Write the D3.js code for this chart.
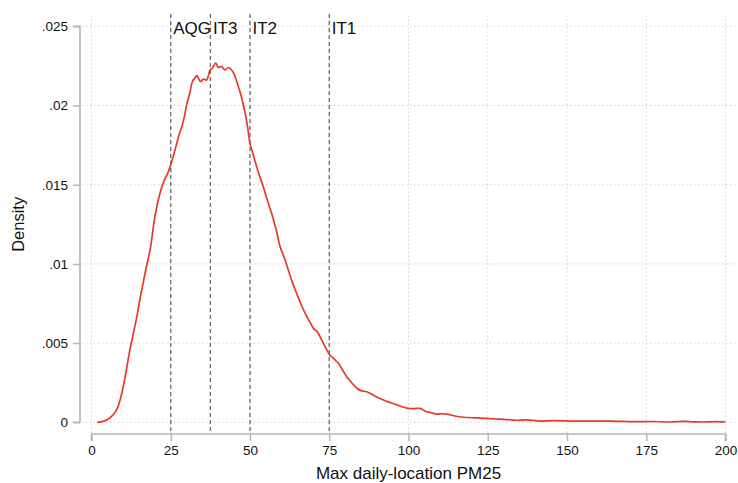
<!DOCTYPE html>
<html>
<head>
<meta charset="utf-8">
<script src="https://cdn.jsdelivr.net/npm/d3@7"></script>
<style>
  body { margin: 0; background: #fff; }
  svg { display: block; font-family: "Liberation Sans", Arial, Helvetica, sans-serif; }
</style>
</head>
<body>
<svg id="chart"></svg>
<script>
// kernel density
const pm = [1.8, 3.0, 4.8, 6.5, 7.9, 9.0, 10.0, 11.0, 12.1, 13.2, 14.3, 15.3, 16.3, 17.4, 18.5, 19.3, 20.0, 21.6, 23.0, 24.0,
  24.8, 25.8, 26.9, 27.7, 28.5, 29.3, 30.0, 31.1, 31.8, 32.5, 33.2, 33.8, 34.4, 35.3, 36.3, 36.9, 37.4, 38.1, 39.2, 40.0,
  40.6, 41.1, 42.1, 43.2, 44.7, 45.5, 46.3, 47.1, 47.9, 48.4, 49.2, 50.0, 51.0, 52.1, 53.1, 54.2, 55.5, 56.8, 58.2, 59.5,
  60.8, 62.1, 63.4, 64.7, 66.0, 67.4, 68.7, 70.0, 71.3, 72.6, 73.9, 75.2, 76.5, 77.9, 79.2, 80.5, 82.1, 83.7, 85.0, 86.8,
  87.9, 90.0, 92.1, 94.2, 96.3, 98.0, 99.9, 101.8, 103.6, 105.7, 107.3, 108.9, 110.5, 112.0, 114.6, 117.3, 121.0, 124.7, 127.3, 129.9,
  134.1, 137.3, 141.5, 146.0, 150.9, 156.0, 161.4, 166.0, 172.0, 177.0, 182.5, 186.7, 190.0, 193.0, 197.0, 200.0];
const density = [0, 0.00003, 0.00014, 0.0004, 0.00078, 0.0014, 0.00225, 0.0033, 0.00457, 0.0056, 0.00667, 0.0078, 0.0088, 0.0099, 0.0109, 0.0120, 0.01298, 0.01446, 0.0153, 0.0157,
  0.01614, 0.0168, 0.01761, 0.0182, 0.01866, 0.0193, 0.02003, 0.02087, 0.0215, 0.0217, 0.02188, 0.0217, 0.0215, 0.02167, 0.0216, 0.0219, 0.02224, 0.02235, 0.02267, 0.0224,
  0.02245, 0.02245, 0.02224, 0.0224, 0.0221, 0.0217, 0.0212, 0.0207, 0.02003, 0.0196, 0.0187, 0.01761, 0.0169, 0.01614, 0.0155, 0.01487, 0.0140, 0.0132, 0.0122, 0.01108,
  0.0104, 0.00961, 0.0088, 0.00815, 0.0075, 0.00688, 0.0064, 0.00593, 0.0057, 0.0052, 0.0047, 0.00425, 0.0040, 0.00373, 0.0033, 0.00288, 0.0025, 0.00215, 0.0020, 0.00193,
  0.00183, 0.0016, 0.00141, 0.00125, 0.0011, 0.00098, 0.00088, 0.00086, 0.00088, 0.00067, 0.0006, 0.00052, 0.00054, 0.00052, 0.0004, 0.00032, 0.00028, 0.00025, 0.00021, 0.00019,
  0.00013, 0.00015, 0.00008, 0.0001, 0.00008, 0.00007, 0.00008, 0.00006, 0.00004, 0.00005, 0.00002, 0.00006, 0.00003, 0.00002, 0.00004, 0.00002];

const guideValues = [25, 37.5, 50, 75];
const guideLabels = ['AQG', 'IT3', 'IT2', 'IT1'];
const xTicks = [0, 25, 50, 75, 100, 125, 150, 175, 200];
const yTicks = [0, 0.005, 0.01, 0.015, 0.02, 0.025];
const yTickLabels = ['0', '.005', '.01', '.015', '.02', '.025'];
const xTitle = 'Max daily-location PM25';
const yTitle = 'Density';

const width = 738;
const height = 483;

const svg = d3.select('#chart')
  .attr('width', width)
  .attr('height', height);

const x = d3.scaleLinear().domain([0, 200]).range([91.5, 725.5]);
const y = d3.scaleLinear().domain([0, 0.025]).range([422.3, 26.3]);

const gridTop = 15.7;
const xAxisY = 434;
const yAxisX = 80;

// dotted grid
svg.append('g')
  .selectAll('line')
  .data(yTicks)
  .join('line')
  .attr('x1', yAxisX + 2).attr('x2', width)
  .attr('y1', d => y(d)).attr('y2', d => y(d))
  .attr('stroke', '#c8c8c8')
  .attr('stroke-width', 1)
  .attr('stroke-dasharray', '1.2 2.8');

svg.append('g')
  .selectAll('line')
  .data(xTicks)
  .join('line')
  .attr('x1', d => x(d)).attr('x2', d => x(d))
  .attr('y1', gridTop).attr('y2', xAxisY)
  .attr('stroke', '#c8c8c8')
  .attr('stroke-width', 1)
  .attr('stroke-dasharray', '1.2 2.8');

// axes, stata style: detached from the plot region
const yAxis = svg.append('g')
  .attr('transform', `translate(${yAxisX},0)`)
  .call(d3.axisLeft(y).tickValues(yTicks).tickFormat((d, i) => yTickLabels[i]).tickSize(7).tickPadding(5));

const xAxis = svg.append('g')
  .attr('transform', `translate(0,${xAxisY})`)
  .call(d3.axisBottom(x).tickValues(xTicks).tickSize(7).tickPadding(4));

[yAxis, xAxis].forEach(g => {
  g.select('.domain').attr('stroke', '#b4b4b4').attr('stroke-width', 1.6);
  g.selectAll('.tick line').attr('stroke', '#b4b4b4').attr('stroke-width', 1.4);
  g.selectAll('.tick text')
    .attr('fill', '#111')
    .style('font-size', '13.5px')
    .style('font-family', '"Liberation Sans", Arial, sans-serif');
});
yAxis.select('.domain').attr('d', `M-7,${y(0)}H0V${y(0.025)}H-7`);
xAxis.select('.domain').attr('d', `M${x(0)},7V0H${x(200)}V7`);

// guide lines
svg.append('g')
  .selectAll('line')
  .data(guideValues)
  .join('line')
  .attr('x1', d => x(d)).attr('x2', d => x(d))
  .attr('y1', 14).attr('y2', xAxisY)
  .attr('stroke', '#6a6a6a')
  .attr('stroke-width', 1.3)
  .attr('stroke-dasharray', '4 3');

svg.append('g')
  .selectAll('text')
  .data(guideValues)
  .join('text')
  .attr('x', d => x(d) + 2.5)
  .attr('y', 33.5)
  .attr('font-size', 17)
  .attr('fill', '#111')
  .text((d, i) => guideLabels[i]);

// density curve
const pts = pm.map((v, i) => [v, density[i]]);
svg.append('path')
  .datum(pts)
  .attr('fill', 'none')
  .attr('stroke', '#e8392b')
  .attr('stroke-width', 1.7)
  .attr('stroke-linejoin', 'round')
  .attr('d', d3.line().x(d => x(d[0])).y(d => y(d[1])).curve(d3.curveCatmullRom.alpha(0.5)));

// titles
svg.append('text')
  .attr('x', (x(0) + x(200)) / 2)
  .attr('y', 479)
  .attr('text-anchor', 'middle')
  .attr('font-size', 17)
  .attr('fill', '#111')
  .text(xTitle);

svg.append('text')
  .attr('transform', `translate(24,${y(0.0125)}) rotate(-90)`)
  .attr('text-anchor', 'middle')
  .attr('font-size', 16.5)
  .attr('fill', '#111')
  .text(yTitle);
</script>
</body>
</html>
